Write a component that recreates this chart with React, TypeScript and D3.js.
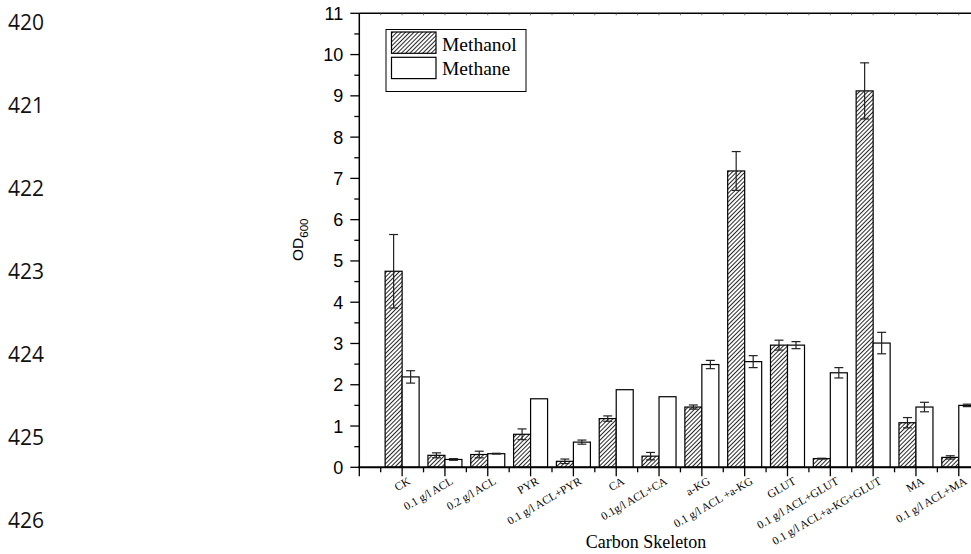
import React, { useEffect, useRef } from 'react';
import * as d3 from 'd3';

const categories = [
  'CK', '0.1 g/l ACL', '0.2 g/l ACL', 'PYR', '0.1 g/l ACL+PYR', 'CA', '0.1g/l ACL+CA',
  'a-KG', '0.1 g/l ACL +a-KG', 'GLUT', '0.1 g/l ACL+GLUT', '0.1 g/l ACL+a-KG+GLUT',
  'MA', '0.1 g/l ACL+MA',
];
const methanol = [4.75, 0.29, 0.31, 0.8, 0.145, 1.18, 0.27, 1.46, 7.18, 2.96, 0.21, 9.12, 1.08, 0.24];
const methanolErr = [0.89, 0.06, 0.08, 0.13, 0.055, 0.065, 0.09, 0.05, 0.47, 0.12, 0.01, 0.68, 0.125, 0.04];
const methane = [2.19, 0.19, 0.33, 1.66, 0.61, 1.88, 1.71, 2.49, 2.56, 2.96, 2.29, 3.01, 1.46, 1.5];
const methaneErr = [0.15, 0.02, 0.01, 0, 0.05, 0, 0, 0.1, 0.145, 0.085, 0.125, 0.26, 0.115, 0.03];
const yTicks = [0, 1, 2, 3, 4, 5, 6, 7, 8, 9, 10, 11];
const lineNumbers = ['420', '421', '422', '423', '424', '425', '426'];
const seriesNames = ['Methanol', 'Methane'];

export default function App() {
  const ref = useRef<SVGSVGElement>(null);

  useEffect(() => {
    const svg = d3.select(ref.current);
    svg.selectAll('*').remove();

    const x = d3.scaleLinear().domain([0, 15]).range([359.3, 359.3 + 15 * 42.82]);
    const y = d3.scaleLinear().domain([0, 11]).range([467.3, 13.3]);
    const barW = 17;
    const serif = "'Liberation Serif', 'Times New Roman', serif";
    const sans = "'Liberation Sans', Arial, sans-serif";

    // hatch pattern
    const defs = svg.append('defs');
    const pat = defs.append('pattern')
      .attr('id', 'hatch')
      .attr('patternUnits', 'userSpaceOnUse')
      .attr('width', 3)
      .attr('height', 3)
      .attr('patternTransform', 'rotate(45)');
    pat.append('rect').attr('width', 3).attr('height', 3).attr('fill', '#fff');
    pat.append('line')
      .attr('x1', 0.5).attr('y1', 0).attr('x2', 0.5).attr('y2', 3)
      .attr('stroke', '#111').attr('stroke-width', 0.9);

    // line numbers at left margin
    svg.append('g').selectAll('text')
      .data(lineNumbers)
      .enter().append('text')
      .attr('x', 8)
      .attr('y', (d, i) => 22.5 + i * 83)
      .attr('dy', '0.36em')
      .style('font', "21px 'Open Sans', 'Noto Sans', sans-serif")
      .attr('fill', '#111')
      .text(d => d);

    const idx = categories.map((c, i) => i);

    // methanol bars
    svg.append('g').selectAll('rect')
      .data(idx)
      .enter().append('rect')
      .attr('x', i => x(i + 1) - barW)
      .attr('y', i => y(methanol[i]))
      .attr('width', barW)
      .attr('height', i => y(0) - y(methanol[i]))
      .attr('fill', 'url(#hatch)')
      .attr('stroke', '#000')
      .attr('stroke-width', 1.2);

    // methane bars
    svg.append('g').selectAll('rect')
      .data(idx)
      .enter().append('rect')
      .attr('x', i => x(i + 1))
      .attr('y', i => y(methane[i]))
      .attr('width', barW)
      .attr('height', i => y(0) - y(methane[i]))
      .attr('fill', '#fff')
      .attr('stroke', '#000')
      .attr('stroke-width', 1.2);

    // error bars
    const errG = svg.append('g').attr('stroke', '#222').attr('stroke-width', 1.2);
    const drawErr = (vals: number[], errs: number[], off: number) => {
      idx.forEach(i => {
        if (!errs[i]) return;
        const cx = x(i + 1) + off;
        const y1 = y(vals[i] + errs[i]);
        const y2 = y(vals[i] - errs[i]);
        errG.append('line').attr('x1', cx).attr('x2', cx).attr('y1', y1).attr('y2', y2);
        errG.append('line').attr('x1', cx - 4.5).attr('x2', cx + 4.5).attr('y1', y1).attr('y2', y1);
        errG.append('line').attr('x1', cx - 4.5).attr('x2', cx + 4.5).attr('y1', y2).attr('y2', y2);
      });
    };
    drawErr(methanol, methanolErr, -barW / 2);
    drawErr(methane, methaneErr, barW / 2);

    // x axis
    const xMajor = d3.range(0, 16);
    const xMinor = d3.range(0.5, 15, 1);
    const axG = svg.append('g');
    axG.append('line')
      .attr('x1', x(0) - 1).attr('x2', x(15))
      .attr('y1', y(0)).attr('y2', y(0))
      .attr('stroke', '#000').attr('stroke-width', 2);
    axG.selectAll('.xmaj').data(xMajor).enter().append('line')
      .attr('x1', d => x(d)).attr('x2', d => x(d))
      .attr('y1', y(0)).attr('y2', y(0) + 9)
      .attr('stroke', '#000').attr('stroke-width', 1.3);
    axG.selectAll('.xmin').data(xMinor).enter().append('line')
      .attr('x1', d => x(d)).attr('x2', d => x(d))
      .attr('y1', y(0)).attr('y2', y(0) + 5)
      .attr('stroke', '#000').attr('stroke-width', 1.3);

    // top frame line with small inward ticks
    axG.append('line')
      .attr('x1', x(0)).attr('x2', x(15))
      .attr('y1', y(11)).attr('y2', y(11))
      .attr('stroke', '#000').attr('stroke-width', 1.4);
    axG.selectAll('.xtop').data(d3.range(0, 15.5, 0.5)).enter().append('line')
      .attr('x1', d => x(d)).attr('x2', d => x(d))
      .attr('y1', y(11)).attr('y2', y(11) + 2)
      .attr('stroke', '#555').attr('stroke-width', 0.8);

    // category labels
    axG.selectAll('.xlab').data(idx).enter().append('text')
      .attr('transform', i => `translate(${x(i + 1) + 9},${y(0) + 16}) rotate(-30)`)
      .attr('text-anchor', 'end')
      .style('font', `11.5px ${serif}`)
      .attr('fill', '#000')
      .text(i => categories[i]);

    // y axis
    axG.append('line')
      .attr('x1', x(0)).attr('x2', x(0))
      .attr('y1', y(11)).attr('y2', y(0))
      .attr('stroke', '#000').attr('stroke-width', 1.5);
    axG.selectAll('.ymaj').data(yTicks).enter().append('line')
      .attr('x1', x(0) - 9).attr('x2', x(0))
      .attr('y1', d => y(d)).attr('y2', d => y(d))
      .attr('stroke', '#000').attr('stroke-width', 1.3);
    axG.selectAll('.ymin').data(d3.range(0.5, 11, 1)).enter().append('line')
      .attr('x1', x(0) - 5).attr('x2', x(0))
      .attr('y1', d => y(d)).attr('y2', d => y(d))
      .attr('stroke', '#000').attr('stroke-width', 1.3);
    axG.selectAll('.ylab').data(yTicks).enter().append('text')
      .attr('x', x(0) - 16)
      .attr('y', d => y(d))
      .attr('dy', '0.36em')
      .attr('text-anchor', 'end')
      .style('font', `18px ${sans}`)
      .attr('fill', '#000')
      .text(d => String(d));

    // y title OD600
    const yt = svg.append('text')
      .attr('transform', 'translate(303,261) rotate(-90)')
      .style('font', `15.5px ${sans}`)
      .attr('fill', '#000');
    yt.append('tspan').text('OD');
    yt.append('tspan').attr('dy', 5).style('font-size', '11.5px').text('600');

    // x title
    svg.append('text')
      .attr('x', 646)
      .attr('y', 548)
      .attr('text-anchor', 'middle')
      .style('font', `18px ${serif}`)
      .attr('fill', '#000')
      .text('Carbon Skeleton');

    // legend
    const lg = svg.append('g');
    lg.append('rect')
      .attr('x', 386).attr('y', 29.5).attr('width', 140).attr('height', 62)
      .attr('fill', '#fff').attr('stroke', '#000').attr('stroke-width', 1);
    lg.selectAll('.sw').data(seriesNames).enter().append('rect')
      .attr('x', 391.5)
      .attr('y', (d, i) => 32 + i * 25.3)
      .attr('width', 44.5)
      .attr('height', 21.3)
      .attr('fill', (d, i) => (i === 0 ? 'url(#hatch)' : '#fff'))
      .attr('stroke', '#000')
      .attr('stroke-width', 1.2);
    lg.selectAll('.lt').data(seriesNames).enter().append('text')
      .attr('x', 442)
      .attr('y', (d, i) => 50.5 + i * 24.8)
      .style('font', `19.5px ${serif}`)
      .attr('fill', '#000')
      .text(d => d);
  }, []);

  return (
    <svg
      ref={ref}
      width={971}
      height={554}
      style={{ position: 'absolute', left: 0, top: 0, background: '#fff' }}
    />
  );
}
